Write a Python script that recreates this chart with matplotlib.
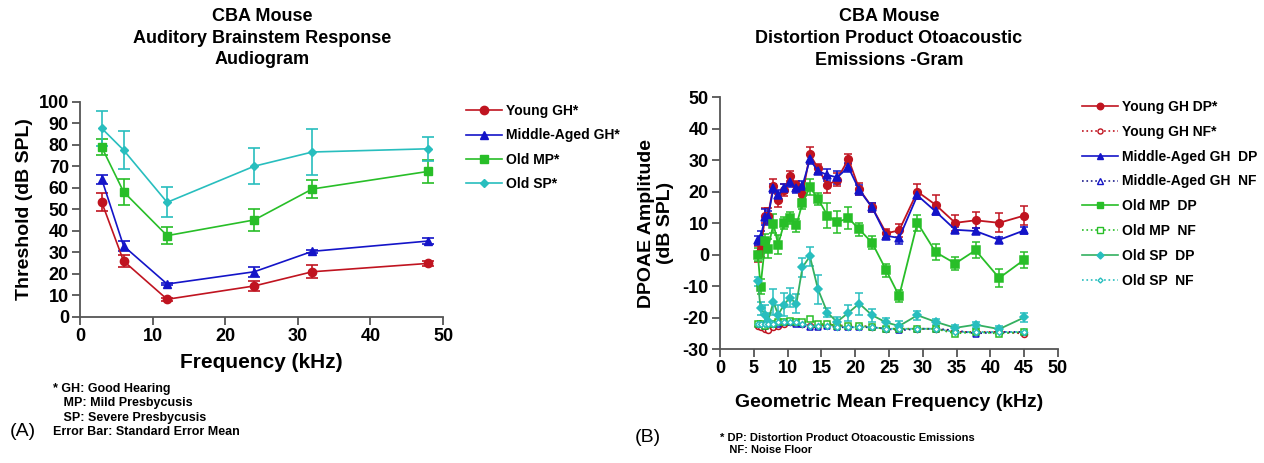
import matplotlib
matplotlib.use("Agg")
import matplotlib.pyplot as plt
from matplotlib.lines import Line2D

plt.rcParams["font.family"] = ["Liberation Sans", "DejaVu Sans"]
plt.rcParams["font.weight"] = "bold"
plt.rcParams["axes.unicode_minus"] = False

# ---- (A) ABR audiogram ----
abr_freq = [3, 6, 12, 24, 32, 48]
abr_young = [53.2, 25.9, 8.1, 14.3, 20.9, 24.8]
abr_young_err = [4.2, 2.8, 0.6, 2.3, 3.0, 1.0]
abr_middle = [63.9, 32.9, 15.2, 20.9, 30.4, 35.2]
abr_middle_err = [2.2, 2.5, 0.6, 2.3, 0.8, 1.5]
abr_mp = [78.8, 58.1, 37.7, 45.0, 59.4, 67.6]
abr_mp_err = [3.7, 6.0, 4.0, 5.0, 4.2, 5.3]
abr_sp = [87.6, 77.5, 53.2, 70.0, 76.6, 78.1]
abr_sp_err = [8.0, 9.0, 7.0, 8.3, 10.5, 5.6]
abr_labels = ["Young GH*", "Middle-Aged GH*", "Old MP*", "Old SP*"]

# ---- (B) DPOAE-gram ----
dp_freq = [5.6, 6.0, 6.7, 7.1, 7.9, 8.6, 9.5, 10.3, 11.3, 12.2, 13.3, 14.5, 15.9,
           17.3, 19.0, 20.6, 22.5, 24.6, 26.5, 29.2, 31.9, 34.8, 37.8, 41.3, 45.0]
young_dp = [0.3, 1.8, 12.4, 12.2, 21.9, 17.2, 20.5, 24.9, 22.0, 19.2, 31.8, 27.4, 22.0,
            23.8, 30.3, 20.8, 15.0, 6.8, 7.7, 20.0, 15.8, 10.1, 10.9, 10.1, 12.4]
young_dp_err = [2.5, 2.5, 2.5, 2.5, 2, 2, 2, 1.5, 1.5, 1.5, 2.5, 1.5, 2.5,
                2, 1.5, 2, 1.5, 1.5, 2, 2.5, 3, 2.5, 2.5, 3, 3]
young_nf = [-22.5, -23, -23.5, -24, -23, -22.5, -22, -21.5, -21.5, -22, -22.5, -22.5, -22,
            -22.5, -22.5, -22.5, -23, -23.5, -23.5, -23.5, -23.5, -24.5, -24.5, -24.5, -25]
middle_dp = [4.5, 5.5, 12.0, 12.0, 21.0, 19.0, 21.0, 23.0, 21.0, 21.9, 30.2, 26.5, 25.3,
             24.5, 27.7, 20.5, 15.0, 6.0, 5.3, 18.8, 13.7, 7.9, 7.5, 4.7, 7.7]
middle_dp_err = [1.5, 2, 2.5, 2, 1.5, 1.5, 1.5, 1.5, 1.5, 1.5, 1.5, 1, 2,
                 2, 1.5, 1.5, 1.5, 1, 2, 1, 1, 1, 1, 1, 1]
middle_nf = [-22, -22, -22.5, -22, -22, -22, -21.5, -21.5, -22, -22, -23, -23, -22.5,
             -23, -23, -23, -23, -23.5, -24, -23.5, -23.5, -24, -25, -24.5, -24.5]
mp_dp = [0.0, -10.1, 4.2, 1.9, 9.8, 3.2, 10.1, 11.6, 9.3, 16.5, 21.4, 17.7, 12.4,
         10.3, 11.6, 8.0, 3.8, -5.0, -13.1, 10.1, 0.8, -2.8, 1.4, -7.4, -1.6]
mp_dp_err = [2, 2.5, 2.5, 3, 3, 3, 2, 2, 2, 2, 2.5, 2, 4,
             3.5, 3.5, 2, 2, 2, 2, 2.5, 2.5, 2, 2.5, 3, 2.5]
mp_nf = [-22, -22, -22.5, -22, -22, -21.5, -21.5, -21, -21.5, -21.5, -20.5, -22, -22,
         -22.5, -22.5, -22.5, -23, -23.5, -23.5, -23.5, -23.5, -25, -24.5, -25, -24.5]
sp_dp = [-8.5, -17.0, -19.0, -21.0, -15.0, -19.0, -15.8, -13.7, -15.5, -4.0, -0.5, -11.0, -18.4,
         -21.3, -18.4, -15.5, -19.2, -21.5, -22.6, -19.2, -21.3, -23.2, -22.2, -23.6, -19.9]
sp_dp_err = [1.5, 2, 3, 2.5, 4, 3, 3.5, 3, 3, 3, 3, 4.5, 1.5,
             1.5, 2.5, 3.5, 2, 1.5, 1.5, 1.5, 1, 1, 1, 1, 1.5]
sp_nf = [-22, -22, -22, -22, -22, -21.5, -21.5, -21.5, -21.5, -22, -22.5, -22.5, -22.5,
         -23, -23, -23, -23, -23.5, -23.5, -23.5, -23.5, -24.5, -24.5, -24.5, -24.5]

RED = "#C01420"
BLUE = "#1414C8"
GREEN = "#28BE28"
CYAN = "#28BEBE"
SP_LINE = "#34B060"

W, H = 1264, 463
fig = plt.figure(figsize=(W / 100, H / 100), dpi=100)


def px_axes(x0, x1, ytop, ybot):
    return fig.add_axes([x0 / W, 1 - ybot / H, (x1 - x0) / W, (ybot - ytop) / H])


def style_axes(ax):
    for s in ["top", "right"]:
        ax.spines[s].set_visible(False)
    for s in ["left", "bottom"]:
        ax.spines[s].set_color("#555555")
        ax.spines[s].set_linewidth(1.3)
    ax.tick_params(direction="out", length=6, width=1.3, color="#555555",
                   labelsize=13, pad=2)
    for lab in ax.get_xticklabels() + ax.get_yticklabels():
        lab.set_fontweight("bold")


# ---------- Panel A ----------
axA = px_axes(80, 443, 101.7, 316.7)
series_a = [
    (abr_young, abr_young_err, RED, "o"),
    (abr_middle, abr_middle_err, BLUE, "^"),
    (abr_mp, abr_mp_err, GREEN, "s"),
    (abr_sp, abr_sp_err, CYAN, "D"),
]
handles_a = []
for (vals, err, col, mk), lab in zip(series_a, abr_labels):
    ms = 6 if mk != "D" else 4.5
    axA.errorbar(abr_freq, vals, yerr=err, color=col, marker=mk,
                 markersize=ms, linewidth=1.2,
                 elinewidth=1.2, capsize=4, capthick=1.2)
    handles_a.append(Line2D([], [], color=col, marker=mk, markersize=ms, linewidth=1.2))
axA.set_xlim(0, 50)
axA.set_ylim(0, 100)
axA.set_xticks(range(0, 51, 10))
axA.set_yticks(range(0, 101, 10))
style_axes(axA)
axA.set_xlabel("Frequency (kHz)", fontsize=15, fontweight="bold", labelpad=6)
axA.set_ylabel("Threshold (dB SPL)", fontsize=14, fontweight="bold", labelpad=4)
fig.text(262 / W, 1 - 8 / H, "CBA Mouse\nAuditory Brainstem Response\nAudiogram",
         ha="center", va="top", fontsize=13, fontweight="bold", linespacing=1.35)
fig.legend(handles=handles_a, labels=abr_labels, loc="upper left",
           bbox_to_anchor=(466 / W, 1 - 104 / H), frameon=False,
           prop={"size": 10, "weight": "bold"}, handlelength=2.6,
           handletextpad=0.3, labelspacing=0.75, borderpad=0, borderaxespad=0)

fig.text(53 / W, 1 - 383 / H,
         "* GH: Good Hearing\n   MP: Mild Presbycusis\n   SP: Severe Presbycusis\nError Bar: Standard Error Mean",
         ha="left", va="top", fontsize=9, fontweight="bold", linespacing=1.25)
fig.text(10 / W, 1 - 432 / H, "(A)", ha="left", va="center", fontsize=14,
         fontweight="normal")

# ---------- Panel B ----------
axB = px_axes(720, 1058, 97, 349.3)
dp_series = [
    ("Young GH DP*", young_dp, young_dp_err, RED, RED, "o", "-", RED),
    ("Young GH NF*", young_nf, None, RED, "white", "o", ":", RED),
    ("Middle-Aged GH  DP", middle_dp, middle_dp_err, BLUE, BLUE, "^", "-", BLUE),
    ("Middle-Aged GH  NF", middle_nf, None, "#1E1E8C", "white", "^", ":", BLUE),
    ("Old MP  DP", mp_dp, mp_dp_err, GREEN, GREEN, "s", "-", GREEN),
    ("Old MP  NF", mp_nf, None, GREEN, "white", "s", ":", GREEN),
    ("Old SP  DP", sp_dp, sp_dp_err, SP_LINE, CYAN, "D", "-", CYAN),
    ("Old SP  NF", sp_nf, None, CYAN, "white", "D", ":", CYAN),
]
handles_b = []
labels_b = []
for lab, vals, err, lcol, mface, mk, ls, mcol in dp_series:
    ms = 5.5 if mk in ("o", "s") else (5.5 if mk == "^" else 4.2)
    if err is None:
        ms -= 1.2
    if err is not None:
        axB.errorbar(dp_freq, vals, yerr=err, fmt="none", ecolor=mcol,
                     elinewidth=1.1, capsize=3, capthick=1.1, zorder=2)
    (h,) = axB.plot(dp_freq, vals, color=lcol, linestyle=ls, linewidth=1.3,
                    marker=mk, markersize=ms,
                    markerfacecolor=mface, markeredgecolor=mcol,
                    markeredgewidth=1.1, zorder=3)
    handles_b.append(Line2D([], [], color=lcol, linestyle=ls, linewidth=1.2,
                            marker=mk, markersize=ms * 0.85,
                            markerfacecolor=mface, markeredgecolor=mcol))
    labels_b.append(lab)
axB.set_xlim(0, 50)
axB.set_ylim(-30, 50)
axB.set_xticks(range(0, 51, 5))
axB.set_yticks(range(-30, 51, 10))
style_axes(axB)
axB.set_xlabel("Geometric Mean Frequency (kHz)", fontsize=14, fontweight="bold",
               labelpad=12)
axB.set_ylabel("DPOAE Amplitude\n(dB SPL)", fontsize=14, fontweight="bold",
               labelpad=6, linespacing=1.2)
fig.text(889 / W, 1 - 8 / H, "CBA Mouse\nDistortion Product Otoacoustic\nEmissions -Gram",
         ha="center", va="top", fontsize=13, fontweight="bold", linespacing=1.4)
fig.legend(handles=handles_b, labels=labels_b, loc="upper left",
           bbox_to_anchor=(1082 / W, 1 - 100 / H), frameon=False,
           prop={"size": 10, "weight": "bold"}, handlelength=2.6,
           handletextpad=0.3, labelspacing=0.78, borderpad=0, borderaxespad=0)

fig.text(720 / W, 1 - 444 / H, "* DP: Distortion Product Otoacoustic Emissions\n   NF: Noise Floor",
         ha="left", va="center", fontsize=8, fontweight="bold", linespacing=1.3)
fig.text(635 / W, 1 - 437 / H, "(B)", ha="left", va="center", fontsize=14,
         fontweight="normal")

fig.savefig("out.png", dpi=100, facecolor="white")
